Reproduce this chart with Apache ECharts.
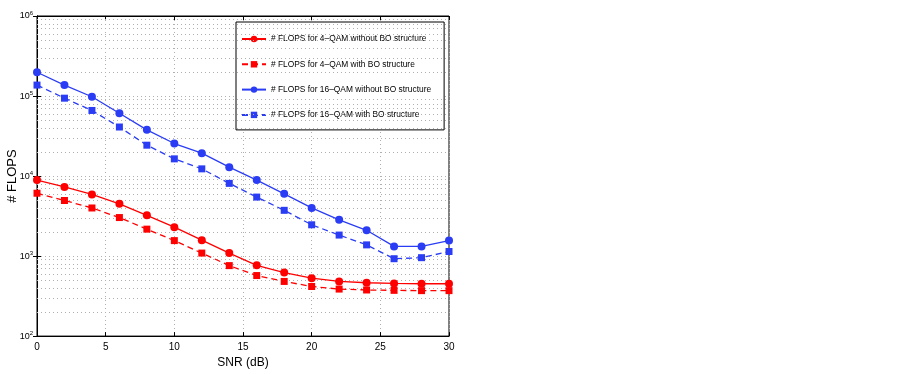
<!DOCTYPE html>
<html>
<head>
<meta charset="utf-8">
<script src="https://cdn.jsdelivr.net/npm/echarts@6/dist/echarts.min.js"></script>
<style>
    html, body { margin: 0; padding: 0; background: #ffffff; }
    #chart { width: 900px; height: 374px; }
</style>
</head>
<body>
<div id="chart"></div>
<script>
    // SNR 轴
    var snr = [0, 2, 4, 6, 8, 10, 12, 14, 16, 18, 20, 22, 24, 26, 28, 30];
    // 各曲线的 FLOPS
    var qam4NoBO  = [8900, 7300, 5900, 4500, 3230, 2300, 1580, 1090, 767, 622, 530, 482, 464, 455, 451, 451];
    var qam4BO    = [6100, 4950, 3990, 3030, 2170, 1560, 1090, 760, 571, 482, 417, 387, 377, 373, 370, 370];
    var qam16NoBO = [198000, 137000, 98000, 61000, 37800, 25500, 19300, 12900, 8900, 6000, 4000, 2840, 2100, 1320, 1320, 1560];
    var qam16BO   = [137000, 94000, 66000, 41000, 24300, 16400, 12300, 8100, 5460, 3730, 2460, 1830, 1380, 927, 955, 1140];
    var xTicks = [0, 5, 10, 15, 20, 25, 30];
    var yDecades = [100, 1000, 10000, 100000, 1000000];
    var legendNames = [
        '# FLOPS for 4\u2013QAM without BO structure',
        '# FLOPS for 4\u2013QAM with BO structure',
        '# FLOPS for 16\u2013QAM without BO structure',
        '# FLOPS for 16\u2013QAM with BO structure'
    ];

    var RED = '#ff0000';
    var BLUE = '#2a3df5';

    function pairs(ys) {
        var out = [];
        for (var i = 0; i < snr.length; i++) {
            out.push([snr[i], ys[i]]);
        }
        return out;
    }

    // 次刻度网格线 (2..9 每个十倍程)
    var minorLines = [];
    for (var d = 0; d < yDecades.length - 1; d++) {
        for (var m = 2; m <= 9; m++) {
            minorLines.push({ yAxis: yDecades[d] * m });
        }
    }

    function mkSeries(name, ys, color, dashed, symbol, size) {
        return {
            name: name,
            type: 'line',
            data: pairs(ys),
            symbol: symbol,
            symbolSize: size,
            showSymbol: true,
            lineStyle: { color: color, width: 1.3, type: dashed ? [6, 4] : 'solid' },
            itemStyle: { color: color },
            z: 5
        };
    }

    var chart = echarts.init(document.getElementById('chart'));
    var fontFam = 'Liberation Sans, Arial, sans-serif';
    var option = {
        animation: false,
        backgroundColor: '#ffffff',
        textStyle: { fontFamily: fontFam },
        grid: {
            left: 37, right: 451, top: 16, bottom: 34,
            show: true, borderColor: '#000000', borderWidth: 1
        },
        legend: {
            data: legendNames,
            orient: 'vertical',
            left: 236, top: 22,
            padding: [13, 13, 11, 5],
            itemGap: 17.3,
            itemWidth: 24, itemHeight: 8,
            backgroundColor: '#ffffff',
            borderColor: '#000000', borderWidth: 1,
            textStyle: { fontSize: 8.4, color: '#000000', fontFamily: fontFam }
        },
        xAxis: [{
            type: 'value', min: 0, max: 30, interval: 5,
            axisLine: { show: true, lineStyle: { color: '#000000' } },
            axisTick: { show: true, inside: true, length: 4, lineStyle: { color: '#000000' } },
            axisLabel: { fontSize: 10, color: '#000000', margin: 6,
                formatter: function (v) { return xTicks.indexOf(v) >= 0 ? String(v) : ''; } },
            splitLine: { show: true, lineStyle: { color: '#b0b0b0', type: [1, 3], width: 1 } },
            name: 'SNR (dB)', nameLocation: 'middle', nameGap: 20,
            nameTextStyle: { fontSize: 12, color: '#000000' }
        }, {
            type: 'value', min: 0, max: 30, interval: 5, position: 'top',
            axisLine: { show: true, lineStyle: { color: '#000000' } },
            axisTick: { show: true, inside: true, length: 4, lineStyle: { color: '#000000' } },
            axisLabel: { show: false },
            splitLine: { show: false }
        }],
        yAxis: [{
            type: 'log', logBase: 10, min: 100, max: 1000000,
            axisLine: { show: true, lineStyle: { color: '#000000' } },
            axisTick: { show: true, inside: true, length: 4, lineStyle: { color: '#000000' } },
            axisLabel: {
                color: '#000000', margin: 4,
                formatter: function (v) {
                    var e = Math.round(Math.log(v) / Math.LN10);
                    return '10{sup|' + e + '}';
                },
                rich: { sup: { fontSize: 6, verticalAlign: 'top', padding: [0, 0, 6, 0], color: '#000000' } },
                fontSize: 9
            },
            splitLine: { show: true, lineStyle: { color: '#b0b0b0', type: [1, 3], width: 1 } },
            name: '# FLOPS', nameLocation: 'middle', nameGap: 18, nameRotate: 90,
            nameMoveOverlap: false,
            nameTextStyle: { fontSize: 13, color: '#000000' }
        }, {
            type: 'log', logBase: 10, min: 100, max: 1000000, position: 'right',
            axisLine: { show: true, lineStyle: { color: '#000000' } },
            axisTick: { show: true, inside: true, length: 4, lineStyle: { color: '#000000' } },
            axisLabel: { show: false },
            splitLine: { show: false }
        }],
        series: [
            {
                name: 'minor-grid', type: 'line', data: [], silent: true,
                markLine: {
                    silent: true, symbol: 'none', label: { show: false },
                    lineStyle: { color: '#b0b0b0', type: [1, 3], width: 1 },
                    data: minorLines
                }
            },
            mkSeries(legendNames[0], qam4NoBO, RED, false, 'circle', 8),
            mkSeries(legendNames[1], qam4BO, RED, true, 'rect', 7),
            mkSeries(legendNames[2], qam16NoBO, BLUE, false, 'circle', 8),
            mkSeries(legendNames[3], qam16BO, BLUE, true, 'rect', 7)
        ]
    };
    chart.setOption(option);
</script>
</body>
</html>
